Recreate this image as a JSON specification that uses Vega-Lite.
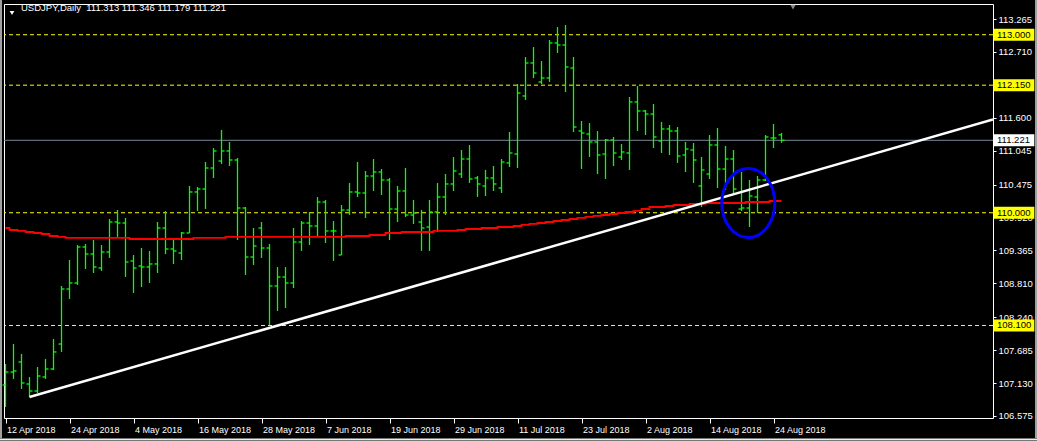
{
  "$schema": "https://vega.github.io/schema/vega-lite/v6.json",
  "width": 989,
  "height": 414,
  "autosize": {"type": "none"},
  "padding": {"left": 4, "top": 4, "right": 44, "bottom": 23},
  "background": "black",
  "title": {
    "text": "USDJPY,Daily\u00a0\u00a0111.313 111.346 111.179 111.221",
    "anchor": "start", "frame": "group", "orient": "top",
    "offset": -22, "dx": 17, "color": "white",
    "font": "Liberation Sans", "fontSize": 9.5, "fontWeight": "normal", "baseline": "alphabetic"
  },
  "config": {
    "view": {"stroke": "white", "strokeWidth": 1, "fill": "black"},
    "axis": {"grid": false, "domainColor": "white", "tickColor": "white", "labelColor": "white", "labelFont": "Liberation Sans", "title": null, "labelOverlap": false, "labelBound": false, "labelFlush": false}
  },
  "datasets": {
    "bars": [
      {"i":0,"o":107.097,"h":107.451,"l":106.727,"c":107.316},
      {"i":1,"o":107.316,"h":107.788,"l":107.199,"c":107.333},
      {"i":2,"o":107.485,"h":107.620,"l":107.030,"c":107.131},
      {"i":3,"o":107.114,"h":107.232,"l":106.895,"c":106.996},
      {"i":4,"o":106.996,"h":107.401,"l":106.963,"c":107.249},
      {"i":5,"o":107.232,"h":107.536,"l":107.199,"c":107.367},
      {"i":6,"o":107.367,"h":107.873,"l":107.350,"c":107.654},
      {"i":7,"o":107.788,"h":108.766,"l":107.654,"c":108.715},
      {"i":8,"o":108.715,"h":109.204,"l":108.547,"c":108.816},
      {"i":9,"o":108.816,"h":109.457,"l":108.783,"c":109.423},
      {"i":10,"o":109.423,"h":109.474,"l":109.052,"c":109.305},
      {"i":11,"o":109.305,"h":109.541,"l":108.985,"c":109.086},
      {"i":12,"o":109.069,"h":109.457,"l":109.019,"c":109.339},
      {"i":13,"o":109.339,"h":109.895,"l":109.238,"c":109.844},
      {"i":14,"o":109.844,"h":110.046,"l":109.592,"c":109.827},
      {"i":15,"o":109.827,"h":109.912,"l":108.917,"c":109.170},
      {"i":16,"o":109.187,"h":109.288,"l":108.648,"c":109.069},
      {"i":17,"o":109.103,"h":109.406,"l":108.749,"c":109.086},
      {"i":18,"o":109.086,"h":109.356,"l":108.816,"c":109.137},
      {"i":19,"o":109.137,"h":109.844,"l":108.985,"c":109.743},
      {"i":20,"o":109.743,"h":110.030,"l":109.305,"c":109.389},
      {"i":21,"o":109.389,"h":109.575,"l":109.137,"c":109.356},
      {"i":22,"o":109.322,"h":109.676,"l":109.204,"c":109.659},
      {"i":23,"o":109.659,"h":110.451,"l":109.659,"c":110.350},
      {"i":24,"o":110.350,"h":110.434,"l":110.030,"c":110.400},
      {"i":25,"o":110.400,"h":110.855,"l":110.063,"c":110.754},
      {"i":26,"o":110.754,"h":111.091,"l":110.586,"c":111.041},
      {"i":27,"o":110.872,"h":111.395,"l":110.822,"c":111.041},
      {"i":28,"o":111.041,"h":111.192,"l":110.788,"c":110.889},
      {"i":29,"o":110.889,"h":110.923,"l":109.541,"c":110.080},
      {"i":30,"o":110.080,"h":110.097,"l":108.951,"c":109.254},
      {"i":31,"o":109.254,"h":109.743,"l":109.120,"c":109.440},
      {"i":32,"o":109.743,"h":109.844,"l":109.238,"c":109.406},
      {"i":33,"o":109.406,"h":109.474,"l":108.109,"c":108.766},
      {"i":34,"o":108.766,"h":109.086,"l":108.344,"c":108.917},
      {"i":35,"o":108.917,"h":109.086,"l":108.395,"c":108.816},
      {"i":36,"o":108.816,"h":109.743,"l":108.732,"c":109.507},
      {"i":37,"o":109.507,"h":109.861,"l":109.356,"c":109.827},
      {"i":38,"o":109.827,"h":110.013,"l":109.457,"c":109.777},
      {"i":39,"o":109.777,"h":110.266,"l":109.608,"c":110.181},
      {"i":40,"o":110.181,"h":110.215,"l":109.490,"c":109.693},
      {"i":41,"o":109.693,"h":109.861,"l":109.187,"c":109.693},
      {"i":42,"o":109.288,"h":110.131,"l":109.288,"c":110.046},
      {"i":43,"o":110.046,"h":110.502,"l":109.962,"c":110.350},
      {"i":44,"o":110.350,"h":110.855,"l":110.266,"c":110.333},
      {"i":45,"o":110.333,"h":110.704,"l":109.912,"c":110.619},
      {"i":46,"o":110.619,"h":110.906,"l":110.367,"c":110.687},
      {"i":47,"o":110.687,"h":110.737,"l":110.299,"c":110.552},
      {"i":48,"o":110.552,"h":110.586,"l":109.541,"c":110.063},
      {"i":49,"o":110.063,"h":110.451,"l":109.844,"c":110.367},
      {"i":50,"o":110.367,"h":110.754,"l":109.929,"c":109.962},
      {"i":51,"o":109.962,"h":110.215,"l":109.811,"c":109.996},
      {"i":52,"o":109.844,"h":110.046,"l":109.356,"c":109.743},
      {"i":53,"o":109.760,"h":110.215,"l":109.356,"c":110.013},
      {"i":54,"o":110.013,"h":110.502,"l":109.676,"c":110.266},
      {"i":55,"o":110.266,"h":110.653,"l":109.962,"c":110.485},
      {"i":56,"o":110.485,"h":110.940,"l":110.367,"c":110.704},
      {"i":57,"o":110.653,"h":111.058,"l":110.586,"c":110.906},
      {"i":58,"o":110.906,"h":111.142,"l":110.502,"c":110.569},
      {"i":59,"o":110.586,"h":110.619,"l":110.266,"c":110.485},
      {"i":60,"o":110.451,"h":110.721,"l":110.282,"c":110.586},
      {"i":61,"o":110.586,"h":110.788,"l":110.367,"c":110.485},
      {"i":62,"o":110.417,"h":110.906,"l":110.333,"c":110.855},
      {"i":63,"o":110.839,"h":111.361,"l":110.771,"c":111.007},
      {"i":64,"o":110.990,"h":112.170,"l":110.754,"c":112.018},
      {"i":65,"o":111.968,"h":112.625,"l":111.900,"c":112.524},
      {"i":66,"o":112.524,"h":112.793,"l":112.271,"c":112.355},
      {"i":67,"o":112.204,"h":112.557,"l":112.170,"c":112.271},
      {"i":68,"o":112.271,"h":112.911,"l":112.204,"c":112.861},
      {"i":69,"o":112.861,"h":113.130,"l":112.692,"c":112.827},
      {"i":70,"o":112.827,"h":113.164,"l":112.035,"c":112.456},
      {"i":71,"o":112.439,"h":112.625,"l":111.361,"c":111.445},
      {"i":72,"o":111.378,"h":111.546,"l":110.737,"c":111.344},
      {"i":73,"o":111.327,"h":111.513,"l":110.940,"c":111.192},
      {"i":74,"o":111.192,"h":111.378,"l":110.653,"c":110.973},
      {"i":75,"o":110.990,"h":111.243,"l":110.569,"c":111.226},
      {"i":76,"o":111.226,"h":111.277,"l":110.788,"c":111.007},
      {"i":77,"o":110.940,"h":111.159,"l":110.889,"c":111.024},
      {"i":78,"o":111.007,"h":111.951,"l":110.721,"c":111.867},
      {"i":79,"o":111.867,"h":112.136,"l":111.378,"c":111.715},
      {"i":80,"o":111.715,"h":111.732,"l":111.310,"c":111.664},
      {"i":81,"o":111.664,"h":111.833,"l":111.091,"c":111.277},
      {"i":82,"o":111.209,"h":111.529,"l":111.007,"c":111.412},
      {"i":83,"o":111.412,"h":111.479,"l":110.973,"c":111.378},
      {"i":84,"o":111.378,"h":111.445,"l":110.839,"c":110.957},
      {"i":85,"o":110.973,"h":111.192,"l":110.687,"c":111.074},
      {"i":86,"o":111.058,"h":111.176,"l":110.502,"c":110.889},
      {"i":87,"o":110.451,"h":110.940,"l":110.097,"c":110.721},
      {"i":88,"o":110.653,"h":111.310,"l":110.569,"c":111.142},
      {"i":89,"o":111.142,"h":111.428,"l":110.417,"c":110.737},
      {"i":90,"o":110.737,"h":111.125,"l":110.384,"c":110.906},
      {"i":91,"o":110.906,"h":111.058,"l":110.333,"c":110.400},
      {"i":92,"o":110.063,"h":110.687,"l":110.030,"c":110.080},
      {"i":93,"o":110.080,"h":110.552,"l":109.760,"c":110.282},
      {"i":94,"o":110.266,"h":110.619,"l":109.996,"c":110.552},
      {"i":95,"o":110.552,"h":111.310,"l":110.535,"c":111.277},
      {"i":96,"o":111.260,"h":111.496,"l":111.091,"c":111.260},
      {"i":97,"o":111.313,"h":111.346,"l":111.179,"c":111.221}
    ],
    "ma": [
      {"i":0,"v":109.743},{"i":1,"v":109.709},{"i":2,"v":109.693},{"i":3,"v":109.676},{"i":4,"v":109.659},
      {"i":5,"v":109.642},{"i":6,"v":109.608},{"i":7,"v":109.592},{"i":8,"v":109.575},{"i":9,"v":109.575},
      {"i":10,"v":109.575},{"i":11,"v":109.575},{"i":12,"v":109.575},{"i":13,"v":109.575},{"i":14,"v":109.575},
      {"i":15,"v":109.575},{"i":16,"v":109.558},{"i":17,"v":109.558},{"i":18,"v":109.558},{"i":19,"v":109.558},
      {"i":20,"v":109.558},{"i":21,"v":109.558},{"i":22,"v":109.558},{"i":23,"v":109.558},{"i":24,"v":109.575},
      {"i":25,"v":109.575},{"i":26,"v":109.575},{"i":27,"v":109.575},{"i":28,"v":109.592},{"i":29,"v":109.592},
      {"i":30,"v":109.592},{"i":31,"v":109.592},{"i":32,"v":109.592},{"i":33,"v":109.592},{"i":34,"v":109.592},
      {"i":35,"v":109.592},{"i":36,"v":109.592},{"i":37,"v":109.592},{"i":38,"v":109.592},{"i":39,"v":109.592},
      {"i":40,"v":109.592},{"i":41,"v":109.592},{"i":42,"v":109.592},{"i":43,"v":109.608},{"i":44,"v":109.608},
      {"i":45,"v":109.608},{"i":46,"v":109.625},{"i":47,"v":109.625},{"i":48,"v":109.659},{"i":49,"v":109.659},
      {"i":50,"v":109.676},{"i":51,"v":109.676},{"i":52,"v":109.676},{"i":53,"v":109.676},{"i":54,"v":109.693},
      {"i":55,"v":109.693},{"i":56,"v":109.693},{"i":57,"v":109.709},{"i":58,"v":109.726},{"i":59,"v":109.726},
      {"i":60,"v":109.743},{"i":61,"v":109.743},{"i":62,"v":109.760},{"i":63,"v":109.760},{"i":64,"v":109.777},
      {"i":65,"v":109.794},{"i":66,"v":109.811},{"i":67,"v":109.827},{"i":68,"v":109.844},{"i":69,"v":109.861},
      {"i":70,"v":109.878},{"i":71,"v":109.895},{"i":72,"v":109.912},{"i":73,"v":109.929},{"i":74,"v":109.946},
      {"i":75,"v":109.962},{"i":76,"v":109.979},{"i":77,"v":109.996},{"i":78,"v":110.013},{"i":79,"v":110.030},
      {"i":80,"v":110.063},{"i":81,"v":110.097},{"i":82,"v":110.097},{"i":83,"v":110.114},{"i":84,"v":110.131},
      {"i":85,"v":110.131},{"i":86,"v":110.148},{"i":87,"v":110.148},{"i":88,"v":110.164},{"i":89,"v":110.164},
      {"i":90,"v":110.164},{"i":91,"v":110.164},{"i":92,"v":110.164},{"i":93,"v":110.181},{"i":94,"v":110.181},
      {"i":95,"v":110.181},{"i":96,"v":110.198},{"i":97,"v":110.198}
    ],
    "levels": [
      {"p":113.0,"label":"113.000"},
      {"p":112.15,"label":"112.150"},
      {"p":110.0,"label":"110.000"},
      {"p":108.1,"label":"108.100"}
    ],
    "bid": [{"p":111.221,"label":"111.221"}],
    "trend": [{"i":3,"p":106.895},{"i":123.44,"p":111.572}]
  },
  "layer": [
    {
      "data": {"name": "levels"},
      "mark": {"type": "rule", "color": "#FFFF00", "strokeWidth": 1, "strokeDash": [4, 3], "clip": true},
      "encoding": {
        "y": {"field": "p", "type": "quantitative", "scale": {"domain": [106.541, 113.518], "zero": false, "nice": false}}
      }
    },
    {
      "data": {"name": "bid"},
      "mark": {"type": "rule", "color": "#778899", "strokeWidth": 1, "clip": true},
      "encoding": {
        "y": {"field": "p", "type": "quantitative", "scale": {"domain": [106.541, 113.518], "zero": false, "nice": false}}
      }
    },
    {
      "data": {"name": "bars"},
      "mark": {"type": "rule", "color": "#00FF00", "strokeWidth": 1.3},
      "encoding": {
        "x": {"field": "i", "type": "quantitative", "scale": {"domain": [-0.1875, 123.4375], "zero": false, "nice": false},
          "axis": {"orient": "bottom", "values": [0,8,16,24,32,40,48,56,64,72,80,88,96], "tickCount": 40,
            "labelExpr": "['12 Apr 2018','24 Apr 2018','4 May 2018','16 May 2018','28 May 2018','7 Jun 2018','19 Jun 2018','29 Jun 2018','11 Jul 2018','23 Jul 2018','2 Aug 2018','14 Aug 2018','24 Aug 2018'][round(datum.value/8)]",
            "labelAlign": "left", "labelOffset": 1, "labelFontSize": 9, "tickSize": 5, "labelPadding": 2, "labelFlush": false, "labelOverlap": false, "labelBound": false, "domain": false}},
        "y": {"field": "l", "type": "quantitative", "scale": {"domain": [106.541, 113.518], "zero": false, "nice": false},
          "axis": {"orient": "right", "values": [113.265,112.71,111.6,111.045,110.475,109.92,109.365,108.81,108.24,107.685,107.13,106.575], "tickCount": 40,
            "format": ".3f", "labelFontSize": 9.5, "tickSize": 3, "labelPadding": 2, "labelBaseline": "middle", "labelFlush": false, "labelOverlap": false, "labelBound": false, "domain": false}},
        "y2": {"field": "h"}
      }
    },
    {
      "data": {"name": "bars"},
      "mark": {"type": "rule", "color": "#00FF00", "strokeWidth": 1.3, "xOffset": -3, "x2Offset": 0},
      "encoding": {
        "x": {"field": "i", "type": "quantitative", "scale": {"domain": [-0.1875, 123.4375], "zero": false, "nice": false}},
        "x2": {"field": "i"},
        "y": {"field": "o", "type": "quantitative", "scale": {"domain": [106.541, 113.518], "zero": false, "nice": false}}
      }
    },
    {
      "data": {"name": "bars"},
      "mark": {"type": "rule", "color": "#00FF00", "strokeWidth": 1.3, "xOffset": 0, "x2Offset": 3},
      "encoding": {
        "x": {"field": "i", "type": "quantitative", "scale": {"domain": [-0.1875, 123.4375], "zero": false, "nice": false}},
        "x2": {"field": "i"},
        "y": {"field": "c", "type": "quantitative", "scale": {"domain": [106.541, 113.518], "zero": false, "nice": false}}
      }
    },
    {
      "data": {"name": "ma"},
      "mark": {"type": "line", "color": "#FF0000", "strokeWidth": 1.8, "interpolate": "step"},
      "encoding": {
        "x": {"field": "i", "type": "quantitative", "scale": {"domain": [-0.1875, 123.4375], "zero": false, "nice": false}},
        "y": {"field": "v", "type": "quantitative", "scale": {"domain": [106.541, 113.518], "zero": false, "nice": false}}
      }
    },
    {
      "data": {"name": "trend"},
      "mark": {"type": "line", "color": "white", "strokeWidth": 2.5, "clip": true},
      "encoding": {
        "x": {"field": "i", "type": "quantitative", "scale": {"domain": [-0.1875, 123.4375], "zero": false, "nice": false}},
        "y": {"field": "p", "type": "quantitative", "scale": {"domain": [106.541, 113.518], "zero": false, "nice": false}}
      }
    },
    {
      "data": {"values": [{}]},
      "mark": {"type": "point", "shape": "M -0.768 0 A 0.768 1 0 1 1 0.768 0 A 0.768 1 0 1 1 -0.768 0 Z", "size": 4761, "filled": false, "stroke": "#0000FF", "strokeWidth": 3, "opacity": 1},
      "encoding": {
        "x": {"datum": 92.85, "type": "quantitative", "scale": {"domain": [-0.1875, 123.4375], "zero": false, "nice": false}},
        "y": {"datum": 110.164, "type": "quantitative", "scale": {"domain": [106.541, 113.518], "zero": false, "nice": false}}
      }
    },
    {
      "data": {"values": [{}]},
      "mark": {"type": "point", "shape": "triangle-down", "size": 22, "filled": true, "color": "white", "opacity": 1},
      "encoding": {
        "x": {"datum": 0.8125, "type": "quantitative", "scale": {"domain": [-0.1875, 123.4375], "zero": false, "nice": false}},
        "y": {"datum": 113.366, "type": "quantitative", "scale": {"domain": [106.541, 113.518], "zero": false, "nice": false}}
      }
    },
    {
      "data": {"values": [{}]},
      "mark": {"type": "point", "shape": "triangle-down", "size": 30, "filled": true, "color": "#8a8a8a", "opacity": 1},
      "encoding": {
        "x": {"datum": 98.44, "type": "quantitative", "scale": {"domain": [-0.1875, 123.4375], "zero": false, "nice": false}},
        "y": {"datum": 113.467, "type": "quantitative", "scale": {"domain": [106.541, 113.518], "zero": false, "nice": false}}
      }
    },
    {
      "data": {"name": "levels"},
      "mark": {"type": "tick", "orient": "horizontal", "size": 41, "thickness": 12, "color": "#FFFF00", "opacity": 1},
      "encoding": {
        "x": {"datum": 126.04, "type": "quantitative", "scale": {"domain": [-0.1875, 123.4375], "zero": false, "nice": false}},
        "y": {"field": "p", "type": "quantitative", "scale": {"domain": [106.541, 113.518], "zero": false, "nice": false}}
      }
    },
    {
      "data": {"name": "bid"},
      "mark": {"type": "tick", "orient": "horizontal", "size": 41, "thickness": 12, "color": "white", "opacity": 1},
      "encoding": {
        "x": {"datum": 126.04, "type": "quantitative", "scale": {"domain": [-0.1875, 123.4375], "zero": false, "nice": false}},
        "y": {"field": "p", "type": "quantitative", "scale": {"domain": [106.541, 113.518], "zero": false, "nice": false}}
      }
    },
    {
      "data": {"name": "levels"},
      "mark": {"type": "text", "align": "left", "baseline": "middle", "color": "black", "font": "Liberation Sans", "fontSize": 9.5},
      "encoding": {
        "x": {"datum": 123.94, "type": "quantitative", "scale": {"domain": [-0.1875, 123.4375], "zero": false, "nice": false}},
        "y": {"field": "p", "type": "quantitative", "scale": {"domain": [106.541, 113.518], "zero": false, "nice": false}},
        "text": {"field": "label"}
      }
    },
    {
      "data": {"name": "bid"},
      "mark": {"type": "text", "align": "left", "baseline": "middle", "color": "black", "font": "Liberation Sans", "fontSize": 9.5},
      "encoding": {
        "x": {"datum": 123.94, "type": "quantitative", "scale": {"domain": [-0.1875, 123.4375], "zero": false, "nice": false}},
        "y": {"field": "p", "type": "quantitative", "scale": {"domain": [106.541, 113.518], "zero": false, "nice": false}},
        "text": {"field": "label"}
      }
    },
    {
      "data": {"values": [{}]},
      "mark": {"type": "rule", "color": "#eeeeee", "strokeWidth": 2},
      "encoding": {
        "x": {"datum": -0.75, "type": "quantitative", "scale": {"domain": [-0.1875, 123.4375], "zero": false, "nice": false}},
        "x2": {"datum": 129.1},
        "y": {"datum": 106.179, "type": "quantitative", "scale": {"domain": [106.541, 113.518], "zero": false, "nice": false}}
      }
    },
    {
      "data": {"values": [{}]},
      "mark": {"type": "rule", "color": "#a0a0a0", "strokeWidth": 2},
      "encoding": {
        "x": {"datum": -0.5625, "type": "quantitative", "scale": {"domain": [-0.1875, 123.4375], "zero": false, "nice": false}},
        "y": {"datum": 113.6, "type": "quantitative", "scale": {"domain": [106.541, 113.518], "zero": false, "nice": false}},
        "y2": {"datum": 106.2}
      }
    },
    {
      "data": {"values": [{}]},
      "mark": {"type": "rule", "color": "#a0a0a0", "strokeWidth": 2},
      "encoding": {
        "x": {"datum": 128.8125, "type": "quantitative", "scale": {"domain": [-0.1875, 123.4375], "zero": false, "nice": false}},
        "y": {"datum": 113.6, "type": "quantitative", "scale": {"domain": [106.541, 113.518], "zero": false, "nice": false}},
        "y2": {"datum": 106.2}
      }
    }
  ]
}
